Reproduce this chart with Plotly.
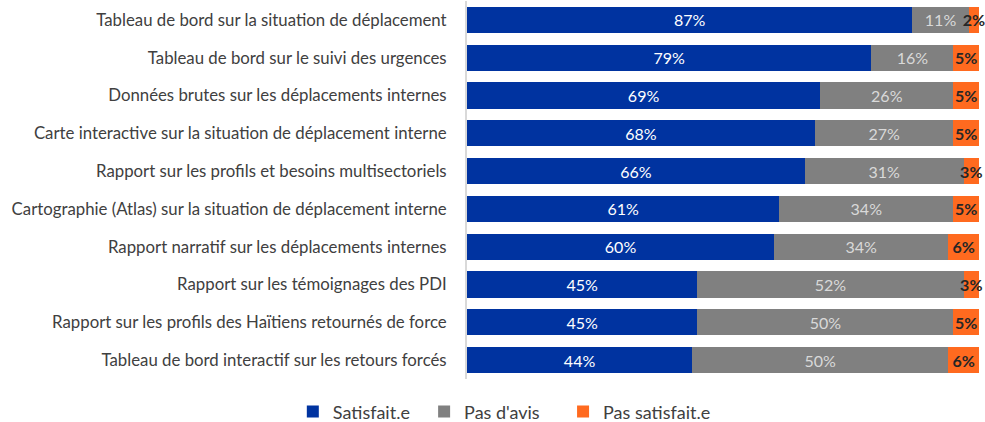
import plotly.graph_objects as go

categories = [
    "Tableau de bord sur la situation de déplacement",
    "Tableau de bord sur le suivi des urgences",
    "Données brutes sur les déplacements internes",
    "Carte interactive sur la situation de déplacement interne",
    "Rapport sur les profils et besoins multisectoriels",
    "Cartographie (Atlas) sur la situation de déplacement interne",
    "Rapport narratif sur les déplacements internes",
    "Rapport sur les témoignages des PDI",
    "Rapport sur les profils des Haïtiens retournés de force",
    "Tableau de bord interactif sur les retours forcés",
]
satisfait = [87, 79, 69, 68, 66, 61, 60, 45, 45, 44]
pas_avis = [11, 16, 26, 27, 31, 34, 34, 52, 50, 50]
pas_satisfait = [2, 5, 5, 5, 3, 5, 6, 3, 5, 6]
series_names = ["Satisfait.e", "Pas d'avis", "Pas satisfait.e"]

NB = "\u00a0"
styles = [
    ("#0033A0", dict(color="white", size=16, weight="normal"), 2),
    ("#808080", dict(color="#D9D9D9", size=16, weight="normal"), 4),
    ("#FF6A1F", dict(color="#262626", size=16, weight="bold"), 0),
]

fig = go.Figure()
for name, vals, (col, tf, pad) in zip(series_names, [satisfait, pas_avis, pas_satisfait], styles):
    fig.add_trace(go.Bar(
        y=categories, x=vals, name=name + NB * pad, orientation="h",
        marker=dict(color=col, line=dict(width=0)),
        text=[f"{v}%" for v in vals], textposition="inside", textangle=0,
        insidetextanchor="middle", constraintext="none",
        textfont=tf, cliponaxis=False,
    ))

fig.update_layout(
    barmode="stack", width=985, height=422,
    margin=dict(l=467, r=6, t=1, b=43, autoexpand=False),
    paper_bgcolor="white", plot_bgcolor="white",
    font=dict(family="Lato", size=17, color="#404040"),
    bargap=0.31,
    showlegend=True,
    legend=dict(orientation="h", xref="container", x=0.512, xanchor="center",
                yref="container", y=0.024, yanchor="middle",
                font=dict(size=18, color="#404040"),
                traceorder="normal"),
)
fig.update_xaxes(range=[0, 100], visible=False, fixedrange=True)
fig.update_yaxes(autorange="reversed", showline=True, linecolor="#D9D9D9", linewidth=2,
                 ticks="", ticklabelstandoff=15, showgrid=False, automargin=False,
                 tickfont=dict(size=16.8, color="#404040"))

fig.write_html("out.html", config={"displayModeBar": False},
               post_script="document.body.style.margin='0';document.body.style.overflow='hidden';")
